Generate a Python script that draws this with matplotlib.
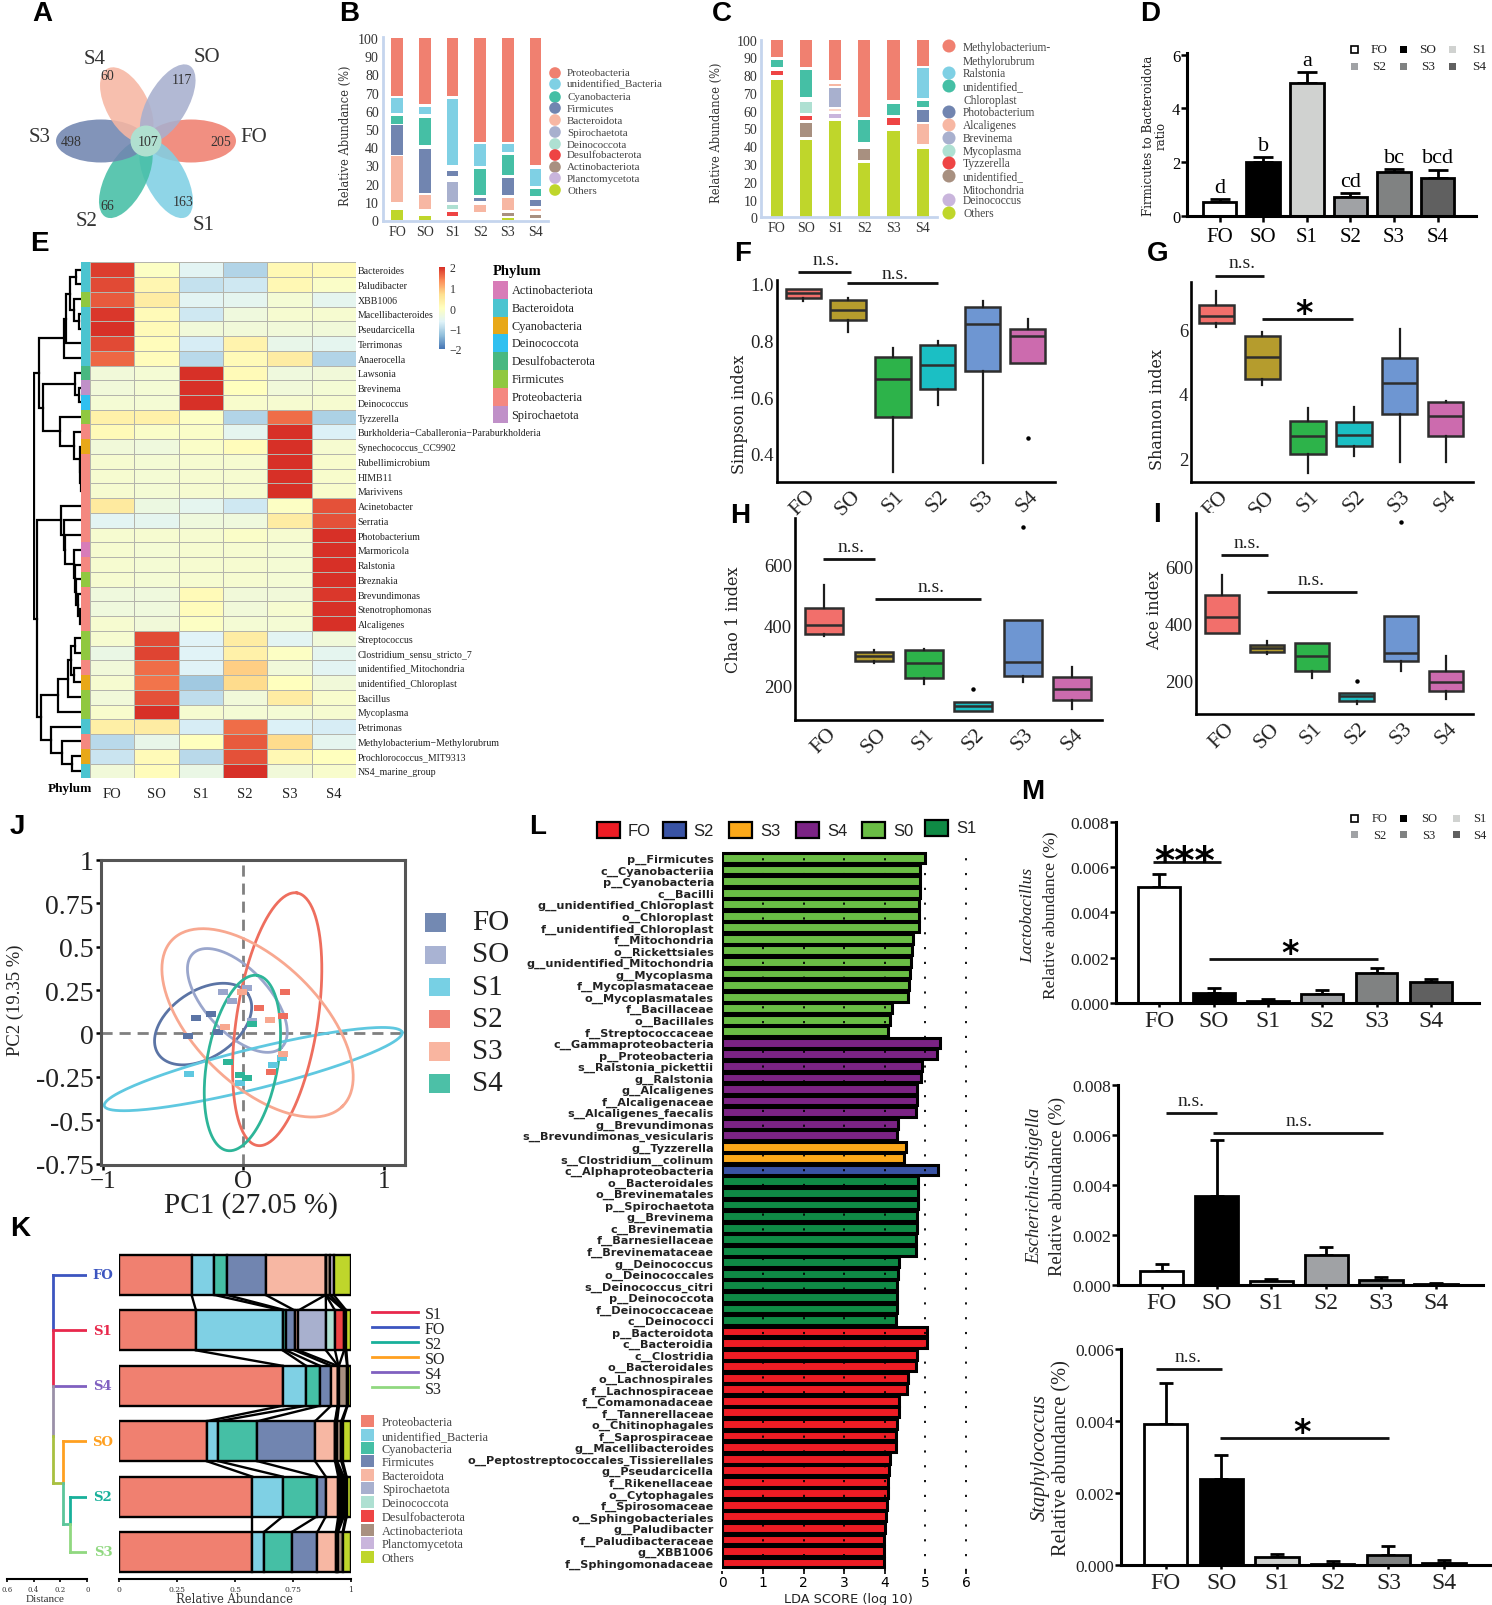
import numpy as np
import matplotlib
matplotlib.use('Agg')
import matplotlib.pyplot as plt
from matplotlib.patches import Ellipse, Rectangle
from matplotlib.colors import LinearSegmentedColormap

plt.rcParams['font.family'] = ['Liberation Serif', 'DejaVu Serif']
W, H = 1492, 1606

groups = ['FO', 'SO', 'S1', 'S2', 'S3', 'S4']

# A
venn_names = ['FO', 'S1', 'S2', 'S3', 'S4', 'SO']
venn_counts = [205, 163, 66, 498, 60, 117]
venn_core = 107

# B (low, high) of each segment
b_names = ['Proteobacteria', 'unidentified_Bacteria', 'Cyanobacteria', 'Firmicutes', 'Bacteroidota',
           'Spirochaetota', 'Deinococcota', 'Desulfobacterota', 'Actinobacteriota', 'Planctomycetota', 'Others']
b_proteo = [(68, 100), (63.5, 100), (68, 100), (43, 100), (43, 100), (30, 100)]
b_unid = [(59, 67), (58, 62), (30, 66.5), (29.5, 41.5), (37.5, 41.7), (18.7, 28)]
b_cyano = [(53, 57), (41, 56), None, (14, 28), (25, 36), (13, 17.3)]
b_firm = [(36, 52), (15, 39), (24, 27), (10.5, 12), (14, 23.3), (8, 11)]
b_bact = [(10, 35), (6, 13.6), None, (4.6, 8.5), (5.5, 12), (4.8, 6)]
b_spiro = [None, None, (10, 21), None, None, None]
b_deino = [None, None, (6, 8.5), None, None, None]
b_desulfo = [None, None, (2, 4.5), None, None, None]
b_actino = [None, None, None, None, (2.5, 3.8), (1.3, 3)]
b_plancto = [None, None, None, None, None, None]
b_others = [(0, 5.5), (0, 2), None, None, (0, 1.2), None]

# C
c_names = ['Methylobacterium-\nMethylorubrum', 'Ralstonia', 'unidentified_\nChloroplast', 'Photobacterium', 'Alcaligenes',
           'Brevinema', 'Mycoplasma', 'Tyzzerella', 'unidentified_\nMitochondria', 'Deinococcus', 'Others']
c_meth = [(90, 100), (84.8, 100), (77.5, 100), (56.3, 100), (65.9, 100), (85.4, 100)]
c_rals = [None, None, None, None, None, (67, 83.9)]
c_chlo = [(84.4, 88.4), (68, 83), None, (42.6, 54.8), (57.8, 64), (62, 65.5)]
c_phot = [None, None, None, None, None, (53.8, 60.2)]
c_alca = [None, None, (73.7, 75), None, None, (41, 52.5)]
c_brev = [None, None, (62, 72.6), None, None, None]
c_myco = [None, (58.5, 64.7), None, None, None, None]
c_tyzz = [(80, 82.4), (55, 57), None, None, (52, 55.7), None]
c_mito = [None, (45, 53.3), None, (32, 38.5), None, None]
c_dein = [None, None, (56, 58), None, None, None]
c_others = [(0, 77.3), (0, 43.7), (0, 54.4), (0, 30.4), (0, 48.8), (0, 38.6)]
c_pale = [None, None, (59.7, 61), None, None, None]

# D
d_mean = [0.52, 2.0, 4.95, 0.68, 1.62, 1.4]
d_top = [0.62, 2.2, 5.35, 0.85, 1.75, 1.72]
d_letters = ['d', 'b', 'a', 'cd', 'bc', 'bcd']

# E
e_rows = ['Bacteroides', 'Paludibacter', 'XBB1006', 'Macellibacteroides', 'Pseudarcicella', 'Terrimonas', 'Anaerocella',
          'Lawsonia', 'Brevinema', 'Deinococcus', 'Tyzzerella', 'Burkholderia−Caballeronia−Paraburkholderia',
          'Synechococcus_CC9902', 'Rubellimicrobium', 'HIMB11', 'Marivivens', 'Acinetobacter', 'Serratia',
          'Photobacterium', 'Marmoricola', 'Ralstonia', 'Breznakia', 'Brevundimonas', 'Stenotrophomonas', 'Alcaligenes',
          'Streptococcus', 'Clostridium_sensu_stricto_7', 'unidentified_Mitochondria', 'unidentified_Chloroplast',
          'Bacillus', 'Mycoplasma', 'Petrimonas', 'Methylobacterium−Methylorubrum', 'Prochlorococcus_MIT9313',
          'NS4_marine_group']
e_vals = [
    [1.9, -0.05, -0.6, -1.05, 0.15, 0.1], [1.8, 0.2, -0.9, -0.8, 0.15, -0.1], [1.7, 0.4, -0.6, -0.55, -0.25, -0.55],
    [1.95, 0.1, -0.8, -0.35, -0.2, -0.2], [2, 0.1, -0.3, -0.3, -0.3, -0.3], [1.8, 0.05, -0.75, 0.25, -0.5, -0.55],
    [1.6, 0.05, -1, 0.1, 0.4, -1.05], [-0.3, -0.25, 2, 0.1, -0.35, -0.3], [-0.3, -0.25, 2, 0, -0.3, -0.25],
    [-0.25, -0.25, 2, -0.15, -0.2, -0.2], [0.3, 0.3, -0.05, -1.05, 1.55, -1.1], [0.1, -0.1, -0.1, -0.55, 2, -0.7],
    [-0.3, -0.35, -0.1, 0.05, 2, -0.2], [-0.2, -0.25, -0.2, -0.2, 2, -0.15], [-0.2, -0.25, -0.2, -0.2, 2, -0.15],
    [-0.2, -0.25, -0.2, -0.2, 2, -0.15], [0.45, -0.4, -0.55, -0.8, -0.05, 1.75], [-0.6, -0.55, -0.35, -0.35, 0.4, 1.75],
    [-0.2, -0.2, -0.2, -0.1, -0.2, 2], [-0.2, -0.25, -0.2, -0.2, -0.25, 2], [-0.2, -0.25, -0.2, -0.2, -0.25, 2],
    [-0.2, -0.25, -0.2, -0.2, -0.25, 2], [-0.35, -0.35, 0.1, -0.3, -0.3, 1.95], [-0.35, -0.35, 0.05, -0.3, -0.2, 2],
    [-0.2, -0.3, -0.05, -0.25, -0.25, 2], [-0.2, 1.8, -0.65, 0.4, -0.6, -0.3], [-0.45, 1.85, -0.65, 0.3, -0.05, -0.55],
    [-0.3, 1.55, -0.65, 0.8, -0.3, -0.6], [-0.2, 1.5, -1.2, 0.7, 0, -0.3], [-0.3, 1.75, -0.95, -0.3, 0.4, -0.15],
    [-0.15, 2, -0.2, -0.25, -0.25, -0.2], [0.35, 0.4, -0.75, 1.55, -0.7, -0.75], [-1, -0.5, 0, 1.7, 0.7, -0.55],
    [-0.85, 0.1, -1, 1.75, 0.15, 0], [-0.3, 0.05, -0.45, 2, -0.3, -0.15]]
phyla = ['Actinobacteriota', 'Bacteroidota', 'Cyanobacteria', 'Deinococcota', 'Desulfobacterota', 'Firmicutes',
         'Proteobacteria', 'Spirochaetota']
e_phylum = [1, 1, 5, 1, 1, 1, 1, 4, 7, 3, 5, 6, 2, 6, 6, 6, 6, 6, 6, 0, 6, 5, 6, 6, 6, 5, 5, 6, 2, 5, 5, 1, 6, 2, 1]
# dendrogram: (distance, child, child), leaves are row numbers
e_tree = (44,
          (39,
           (16, (14, (11, (4.7, 0, 1), (7, 2, (2, 3, 4))), 5), 6),
           (36, (6, 7, (2, 8, 9)), (20, 10, (7, 11, (1.5, 12, (1, 13, (0.5, 14, 15))))))),
          (41,
           (19, 16, (16.5, 17, (15, 18, (7, 19, (6, 20, (5, 21, (3, 22, (1.5, 23, 24)))))))),
           (38,
            (21.3, (12.3, (10, (5.7, 25, 26), (7, 27, 28)), 29), 30),
            (28, 31, (18, 32, (8.7, 33, 34))))))

# F G H I boxes
f_lo = [0.941, 0.829, 0.335, 0.571, 0.368, 0.72]
f_q1 = [0.951, 0.871, 0.532, 0.628, 0.694, 0.72]
f_med = [0.967, 0.909, 0.664, 0.714, 0.858, 0.818]
f_q3 = [0.982, 0.944, 0.741, 0.785, 0.918, 0.842]
f_hi = [0.982, 0.952, 0.774, 0.798, 0.941, 0.876]
f_out = [[], [], [], [], [], [0.458]]

g_lo = [6.05, 4.28, 1.57, 2.1, 1.9, 1.92]
g_q1 = [6.17, 4.46, 2.15, 2.4, 3.37, 2.7]
g_med = [6.41, 5.15, 2.7, 2.74, 4.33, 3.33]
g_q3 = [6.74, 5.79, 3.18, 3.13, 5.11, 3.74]
g_hi = [7.18, 5.9, 3.58, 3.61, 6.0, 3.79]
g_out = [[], [], [], [], [], []]

h_lo = [365, 275, 205, 117, 213, 123]
h_q1 = [372, 283, 224, 117, 233, 153]
h_med = [400, 299, 274, 134, 278, 189]
h_q3 = [456, 310, 318, 147, 418, 230]
h_hi = [531, 318, 321, 147, 418, 263]
h_out = [[], [], [], [190], [724], []]

i_lo = [368, 293, 209, 118, 235, 137]
i_q1 = [368, 303, 235, 131, 271, 166]
i_med = [425, 315, 289, 146, 299, 198]
i_q3 = [500, 327, 333, 158, 426, 235]
i_hi = [572, 339, 333, 158, 426, 289]
i_out = [[], [], [], [199], [757], []]

# J
j_names = ['FO', 'SO', 'S1', 'S2', 'S3', 'S4']
j_x = [[-0.395, -0.337, -0.234, -0.181], [-0.145, -0.084, 0.024, 0.060], [-0.386, -0.024, 0.212, 0.272],
       [0.294, 0.113, 0.284, 0.198], [-0.01, -0.133, 0.188, 0.28], [0.06, -0.108, -0.024, 0.029]]
j_y = [[-0.013, 0.088, 0.111, 0.006], [0.239, 0.184, 0.259, 0.069], [-0.236, -0.285, -0.18, -0.14],
       [0.241, 0.146, 0.102, -0.22], [0.239, 0.04, 0.075, -0.119], [0.054, -0.165, -0.239, -0.255]]
# ellipse centre, semi axes (in x units) and on-screen angle
j_cx = [-0.287, -0.043, 0.07, 0.241, 0.101, -0.007]
j_cy = [0.054, 0.19, -0.205, 0.082, 0.061, -0.17]
j_a = [0.386, 0.464, 1.094, 0.925, 0.855, 0.643]
j_b = [0.241, 0.229, 0.145, 0.289, 0.446, 0.253]
j_ang = [34.5, -47.6, 14.1, 81.3, -45, 80.3]

# K
k_rows = ['FO', 'S1', 'S4', 'SO', 'S2', 'S3']
k_vals = [[0.312, 0.098, 0.053, 0.169, 0.259, 0, 0, 0.002, 0.016, 0.016, 0.075],
          [0.331, 0.374, 0.014, 0.038, 0.016, 0.119, 0.039, 0.039, 0.005, 0.005, 0.02],
          [0.705, 0.101, 0.06, 0.048, 0.028, 0.002, 0.002, 0.002, 0.035, 0.002, 0.015],
          [0.377, 0.05, 0.169, 0.249, 0.086, 0.002, 0.002, 0.005, 0.018, 0.006, 0.036],
          [0.574, 0.131, 0.147, 0.039, 0.054, 0.008, 0.008, 0.008, 0.008, 0.004, 0.019],
          [0.574, 0.05, 0.12, 0.111, 0.08, 0.003, 0.003, 0.003, 0.02, 0.003, 0.033]]
k_line_names = ['S1', 'FO', 'S2', 'SO', 'S4', 'S3']
k_dist_root = 0.252
k_dist_so = 0.178
k_dist_s2s3 = 0.128

# L
l_green = ['p__Firmicutes', 'c__Cyanobacteriia', 'p__Cyanobacteria', 'c__Bacilli', 'g__unidentified_Chloroplast',
           'o__Chloroplast', 'f__unidentified_Chloroplast', 'f__Mitochondria', 'o__Rickettsiales',
           'g__unidentified_Mitochondria', 'g__Mycoplasma', 'f__Mycoplasmataceae', 'o__Mycoplasmatales',
           'f__Bacillaceae', 'o__Bacillales', 'f__Streptococcaceae']
l_green_v = [5.0, 4.87, 4.87, 4.86, 4.85, 4.84, 4.84, 4.69, 4.68, 4.64, 4.63, 4.59, 4.58, 4.17, 4.13, 4.07]
l_purple = ['c__Gammaproteobacteria', 'p__Proteobacteria', 's__Ralstonia_pickettii', 'g__Ralstonia', 'g__Alcaligenes',
            'f__Alcaligenaceae', 's__Alcaligenes_faecalis', 'g__Brevundimonas', 's__Brevundimonas_vesicularis']
l_purple_v = [5.35, 5.28, 4.92, 4.89, 4.79, 4.79, 4.76, 4.32, 4.30]
l_orange = ['g__Tyzzerella', 's__Clostridium__colinum']
l_orange_v = [4.52, 4.47]
l_blue = ['c__Alphaproteobacteria']
l_blue_v = [5.30]
l_dark = ['o__Bacteroidales', 'o__Brevinematales', 'p__Spirochaetota', 'g__Brevinema', 'c__Brevinematia',
          'f__Barnesiellaceae', 'f__Brevinemataceae', 'g__Deinococcus', 'o__Deinococcales', 's__Deinococcus_citri',
          'p__Deinococcota', 'f__Deinococcaceae', 'c__Deinococci']
l_dark_v = [4.83, 4.82, 4.81, 4.80, 4.80, 4.78, 4.78, 4.36, 4.33, 4.31, 4.30, 4.29, 4.28]
l_red = ['p__Bacteroidota', 'c__Bacteroidia', 'c__Clostridia', 'o__Bacteroidales', 'o__Lachnospirales',
         'f__Lachnospiraceae', 'f__Comamonadaceae', 'f__Tannerellaceae', 'o__Chitinophagales', 'f__Saprospiraceae',
         'g__Macellibacteroides', 'o__Peptostreptococcales_Tissierellales', 'g__Pseudarcicella', 'f__Rikenellaceae',
         'o__Cytophagales', 'f__Spirosomaceae', 'o__Sphingobacteriales', 'g__Paludibacter', 'f__Paludibacteraceae',
         'g__XBB1006', 'f__Sphingomonadaceae']
l_red_v = [5.05, 5.03, 4.80, 4.77, 4.58, 4.54, 4.34, 4.34, 4.31, 4.28, 4.28, 4.12, 4.10, 4.08, 4.08, 4.06, 4.02, 4.01,
           3.99, 3.99, 3.98]

# M
m1_mean = [0.00513, 0.00044, 0.0001, 0.00038, 0.00134, 0.00094]
m1_top = [0.00569, 0.00065, 0.00018, 0.00057, 0.00154, 0.00106]
m2_mean = [0.00055, 0.00356, 0.00016, 0.00122, 0.00022, 0.00003]
m2_top = [0.00085, 0.0058, 0.00025, 0.00152, 0.00033, 0.00007]
m3_mean = [0.00393, 0.00238, 0.00021, 0.00003, 0.00028, 0.00005]
m3_top = [0.00505, 0.00305, 0.0003, 0.00009, 0.00051, 0.00012]

# colours
tax_cols = ['#F08070', '#7FD0E4', '#45BFA5', '#7185B0', '#F7B7A3', '#A8B0CE', '#AEE0D2', '#EE4444', '#A89080',
            '#C9B5DC', '#BFD62B']
gray_cols = ['white', 'black', '#D0D2D0', '#A0A2A5', '#808282', '#606060']
box_cols = ['#F26F6B', '#B59C2D', '#2DB34A', '#1BBFC4', '#6E96D2', '#CC6BAE']
phylum_cols = ['#D87CB8', '#4BC4D0', '#E8A818', '#30C0F0', '#48B880', '#90C840', '#F48880', '#C090C8']

fig = plt.figure(figsize=(W / 100, H / 100), dpi=100)


def place(x0, y0, x1, y1):
    return fig.add_axes([x0 / W, 1 - y1 / H, (x1 - x0) / W, (y1 - y0) / H])


ov = fig.add_axes([0, 0, 1, 1], zorder=20)
ov.set_xlim(0, W)
ov.set_ylim(H, 0)
ov.axis('off')
ov.patch.set_alpha(0)


def sig(x0, x1, y, label, tx, ty, size=14):
    ov.plot([x0, x1], [y, y], color='#111111', lw=2, solid_capstyle='butt')
    if label.startswith('*'):
        ov.text(tx, ty + size * 0.4, label, ha='center', va='center', fontsize=size, family='DejaVu Sans',
                fontweight='bold')
    else:
        ov.text(tx, ty, label, ha='center', va='center', fontsize=size, color='#222222')


def square(x, y, w, h, col, edge='none', lw=0):
    ov.add_patch(Rectangle((x, y), w, h, facecolor=col, edgecolor=edge, linewidth=lw))


# panel letters
for lab, x, y in [('A', 42, 14), ('B', 349, 14), ('C', 722, 14), ('D', 1150, 14), ('E', 39, 244), ('F', 743, 254),
                  ('G', 1158, 254), ('H', 740, 516), ('I', 1157, 515), ('J', 17, 827), ('K', 20, 1229), ('L', 538, 827),
                  ('M', 1033, 792)]:
    ov.text(x, y, lab, ha='center', va='center', fontsize=20, family='Liberation Sans', fontweight='bold')

# A
ax = place(0, 30, 300, 240)
ax.set_xlim(0, 300)
ax.set_ylim(240, 30)
ax.axis('off')
petal_col = ['#F08070', '#80D0E4', '#45BFA5', '#7185B0', '#F7B7A3', '#A8B0CE']
petal_ang = [0, -62, -118, 180, 118, 60]
petal_len = [90, 86, 86, 90, 82, 87]
petal_wid = [43, 40, 40, 43, 42, 40]
for c, a, l, w in zip(petal_col, petal_ang, petal_len, petal_wid):
    cx = 146 + l / 2 * np.cos(np.radians(a))
    cy = 142 - l / 2 * np.sin(np.radians(a))
    ax.add_patch(Ellipse((cx, cy), l, w, angle=-a, facecolor=c, edgecolor='none', alpha=0.88))
ax.add_patch(Ellipse((146, 142), 31, 31, facecolor='#B0E0D0', edgecolor='none'))
name_xy = [(254, 137), (204, 226), (87, 222), (40, 137), (95, 59), (207, 57)]
num_xy = [(221, 142), (183, 203), (107, 206), (71, 142), (107, 77), (182, 80)]
for n, c, p, q in zip(venn_names, venn_counts, name_xy, num_xy):
    ov.text(p[0], p[1], n, ha='center', va='center', fontsize=15, color='#333333')
    ov.text(q[0], q[1], str(c), ha='center', va='center', fontsize=10, color='#333333')
ov.text(148, 142, str(venn_core), ha='center', va='center', fontsize=10, color='#333333')


def stacked(ax, series, cols, width):
    for segs, col in zip(series, cols):
        for i, s in enumerate(segs):
            if s is not None:
                ax.bar(i, s[1] - s[0], bottom=s[0], width=width, color=col)
    ax.set_xticks(range(6))
    ax.set_xticklabels(groups, fontsize=10, color='#333333')
    ax.set_yticks(range(0, 101, 10))
    ax.tick_params(axis='y', labelsize=10, length=0, pad=3, labelcolor='#333333')
    ax.tick_params(axis='x', length=0, pad=3)
    for s in ['top', 'right']:
        ax.spines[s].set_visible(False)
    for s in ['left', 'bottom']:
        ax.spines[s].set_color('#C5D5EE')
        ax.spines[s].set_linewidth(2)


# B
ax = place(383, 38, 548, 222)
stacked(ax, [b_proteo, b_unid, b_cyano, b_firm, b_bact, b_spiro, b_deino, b_desulfo, b_actino, b_plancto, b_others],
        tax_cols, 0.42)
ax.set_xlim((383 - 397) / 27.7, (548 - 397) / 27.7)
ax.set_ylim(-0.5, 100.5)
ov.text(345, 136, 'Relative Abundance (%)', rotation=90, ha='center', va='center', fontsize=8.3, family='DejaVu Serif',
        color='#333333')
b_ys = [74, 85, 98, 109, 121, 133, 145, 156, 168, 179, 191]
ov.scatter([555] * 11, b_ys, s=70, c=tax_cols, linewidths=0)
for n, y in zip(b_names, b_ys):
    ov.text(567, y, n, va='center', fontsize=7.9, color='#444444')

# C
ax = place(761.4, 40.7, 937.4, 218.3)
c_cols = ['#F08070', '#7FD0E4', '#45BFA5', '#7185B0', '#F7B7A3', '#A8B0CE', '#AEE0D2', '#EE4444', '#A89080', '#C9B5DC',
          '#BFD62B', '#FBD5C8']
stacked(ax, [c_meth, c_rals, c_chlo, c_phot, c_alca, c_brev, c_myco, c_tyzz, c_mito, c_dein, c_others, c_pale], c_cols, 0.42)
ax.set_xlim((761.4 - 776.7) / 29.2, (937.4 - 776.7) / 29.2)
ax.set_ylim(0, 100)
ov.text(716.5, 133, 'Relative Abundance (%)', rotation=90, ha='center', va='center', fontsize=8.3, family='DejaVu Serif',
        color='#333333')
c_ys = [47, 74, 87, 113, 126, 139, 152, 164, 177, 201, 214]
c_text_ys = [55, 74, 94, 113, 126, 139, 152, 164, 184, 201, 214]
ov.scatter([949] * 11, c_ys, s=88, c=c_cols[:11], linewidths=0)
for n, y in zip(c_names, c_text_ys):
    ov.text(963, y, n, va='center', fontsize=8.3, color='#444444', linespacing=1.15)


def sem_bars(ax, means, tops, width, lw=2, cap=5):
    ax.bar(range(6), means, width=width, color=gray_cols, edgecolor='black', linewidth=lw, zorder=2)
    ax.errorbar(range(6), means, yerr=[np.zeros(6), np.array(tops) - np.array(means)], fmt='none', ecolor='black',
                elinewidth=lw, capsize=cap, capthick=lw, zorder=1)
    for s in ['top', 'right']:
        ax.spines[s].set_visible(False)
    for s in ['left', 'bottom']:
        ax.spines[s].set_linewidth(2.2)
    ax.set_xticks(range(6))
    ax.set_xticklabels(groups)


def gray_legend(xs, txs, ys, size):
    k = 0
    for y in ys:
        for x, tx in zip(xs, txs):
            e = 'black' if k == 0 else 'none'
            square(x - 3.5, y - 3.5, 7, 7, gray_cols[k], e, 1.2)
            ov.text(tx, y, groups[k], va='center', ha='center', fontsize=size, color='#222222')
            k += 1


# D
ax = place(1187.4, 54, 1475.7, 216.7)
sem_bars(ax, d_mean, d_top, 0.775, cap=7)
ax.set_xlim((1187.4 - 1219.6) / 43.6, (1475.7 - 1219.6) / 43.6)
ax.set_ylim(0, 6.07)
ax.set_yticks([0, 2, 4, 6])
ax.tick_params(axis='y', labelsize=12, length=4, width=1.8, pad=1)
ax.tick_params(axis='x', labelsize=15, length=4, width=1.8, pad=4)
for i, (t, l) in enumerate(zip(d_top, d_letters)):
    ax.text(i, t + 0.08, l, ha='center', va='bottom', fontsize=16)
ov.text(1155, 136, 'Firmicutes to Bacteroidota\nratio', rotation=90, ha='center', va='center', fontsize=8.5,
        family='DejaVu Serif', linespacing=1.0, color='#222222')
gray_legend([1354, 1403, 1452], [1379, 1428, 1479], [50, 67], 9.5)

# E
ax = place(89.8, 263.3, 356.2, 779.3)
cmap = LinearSegmentedColormap.from_list('rb', ['#4575B4', '#91BFDB', '#E0F3F8', '#FFFFBF', '#FEE090', '#FC8D59', '#D73027'])
mesh = ax.pcolormesh(np.array(e_vals), cmap=cmap, vmin=-2, vmax=2, edgecolors='#B4B4AC', linewidth=0.6)
ax.set_ylim(35, 0)
ax.yaxis.tick_right()
ax.set_yticks(np.arange(35) + 0.5)
ax.set_yticklabels(e_rows, fontsize=7.1, color='#222222')
ax.set_xticks(np.arange(6) + 0.5)
ax.set_xticklabels(groups, fontsize=10.5, color='#222222')
ax.tick_params(length=0, pad=1)
ax.tick_params(axis='x', pad=6)
for s in ax.spines.values():
    s.set_visible(False)

ax = place(81.4, 263.3, 89.8, 779.3)
for r, p in enumerate(e_phylum):
    ax.bar(0.5, 1, bottom=r, width=1, color=phylum_cols[p])
ax.set_xlim(0, 1)
ax.set_ylim(35, 0)
ax.axis('off')

ax = place(33, 263.3, 81.4, 779.3)


def draw_tree(ax, node):
    if isinstance(node, int):
        return 0, node + 0.5
    d, a, b = node
    xa, ya = draw_tree(ax, a)
    xb, yb = draw_tree(ax, b)
    ax.plot([xa, d, d, xb], [ya, ya, yb, yb], color='black', lw=1.6, solid_joinstyle='miter')
    return d, (ya + yb) / 2


draw_tree(ax, e_tree)
ax.set_xlim(45, 0)
ax.set_ylim(35, 0)
ax.axis('off')

ov.text(70, 789, 'Phylum', ha='center', va='center', fontsize=9.5, fontweight='bold')

cax = place(439, 268, 445.3, 350)
cb = fig.colorbar(mesh, cax=cax)
cb.set_ticks([-2, -1, 0, 1, 2])
cb.ax.tick_params(length=0, labelsize=8.5, pad=3, labelcolor='#333333')
cb.outline.set_visible(False)
ov.text(492.6, 272, 'Phylum', va='center', fontsize=10.5, fontweight='bold')
for i, (n, c) in enumerate(zip(phyla, phylum_cols)):
    square(492.6, 282 + i * 17.8, 15.2, 17.8, c)
    ov.text(511.5, 291 + i * 17.8, n, va='center', fontsize=8.8, color='#222222')


def box_panel(box, c0, step, width, ylim, yticks, ylabel, lab_xy, lo, q1, med, q3, hi, out):
    x0, y0, x1, y1 = box
    ax = place(x0, y0, x1, y1)
    stats = [dict(whislo=a, q1=b, med=c, q3=d, whishi=e, fliers=f) for a, b, c, d, e, f in zip(lo, q1, med, q3, hi, out)]
    art = ax.bxp(stats, positions=range(6), widths=width, patch_artist=True, showcaps=False,
                 boxprops=dict(linewidth=1.8, edgecolor='#2E2E2E'), medianprops=dict(color='#2E2E2E', linewidth=1.8),
                 whiskerprops=dict(color='#1E1E1E', linewidth=1.6),
                 flierprops=dict(marker='o', markersize=2.2, markerfacecolor='black', markeredgecolor='black'))
    for b, c in zip(art['boxes'], box_cols):
        b.set_facecolor(c)
    ax.set_xlim((x0 - c0) / step, (x1 - c0) / step)
    ax.set_ylim(*ylim)
    ax.set_yticks(yticks)
    ax.set_xticks(range(6))
    ax.set_xticklabels(groups, rotation=45, ha='center', fontsize=15.5, color='#222222')
    ax.tick_params(axis='y', labelsize=13.5, length=0, pad=2, labelcolor='#222222')
    ax.tick_params(axis='x', length=0, pad=3)
    for s in ['top', 'right']:
        ax.spines[s].set_visible(False)
    for s in ['left', 'bottom']:
        ax.spines[s].set_linewidth(1.9)
    ov.text(lab_xy[0], lab_xy[1], ylabel, rotation=90, ha='center', va='center', fontsize=11.5, family='DejaVu Serif',
            color='#222222')


fx = 0.5038
box_panel((776.6, 280.7, 1055, 482.7), 803.3, 44.84, 0.787, (0.302, 1.015), [0.4, 0.6, 0.8, 1.0], 'Simpson index',
          (739, 414), f_lo, f_q1, f_med, f_q3, f_hi, f_out)
sig(700 + 195 * fx, 700 + 300 * fx, 240 + 98 / 3, 'n.s.', 700 + 250 * fx, 240 + 62 / 3)
sig(700 + 292 * fx, 700 + 473 * fx, 240 + 133 / 3, 'n.s.', 700 + 388 * fx, 240 + 103 / 3)

box_panel((1191, 282.7, 1473, 483.3), 1216.4, 45.85, 0.77, (1.282, 7.456), [2, 4, 6], 'Shannon index', (1157, 410),
          g_lo, g_q1, g_med, g_q3, g_hi, g_out)
sig(700 + 1023 * fx, 700 + 1120 * fx, 240 + 110 / 3, 'n.s.', 700 + 1075 * fx, 240 + 72 / 3)
sig(700 + 1115 * fx, 700 + 1297 * fx, 240 + 240 / 3, '*', 700 + 1200 * fx, 240 + 195 / 3, size=24)

box_panel((794.7, 519.3, 1102, 720.7), 824.4, 49.6, 0.77, (87.6, 753), [200, 400, 600], 'Chao 1 index', (734, 620),
          h_lo, h_q1, h_med, h_q3, h_hi, h_out)
sig(700 + 244 * fx, 700 + 347 * fx, 500 + 180 / 3, 'n.s.', 700 + 300 * fx, 500 + 142 / 3)
sig(700 + 347 * fx, 700 + 558 * fx, 500 + 300 / 3, 'n.s.', 700 + 458 * fx, 500 + 262 / 3)

box_panel((1195.7, 514, 1473, 715.3), 1222, 44.84, 0.76, (83.5, 787.7), [200, 400, 600], 'Ace index', (1155, 610),
          i_lo, i_q1, i_med, i_q3, i_hi, i_out)
sig(700 + 1034 * fx, 700 + 1128 * fx, 500 + 168 / 3, 'n.s.', 700 + 1085 * fx, 500 + 132 / 3)
sig(700 + 1125 * fx, 700 + 1305 * fx, 500 + 278 / 3, 'n.s.', 700 + 1212 * fx, 500 + 242 / 3)

# J
ax = place(101.4, 860.7, 405, 1166)
ax.set_xlim(-1.012, 1.152)
ax.set_ylim(-0.757, 1.0)
ax.axhline(0, color='#808080', lw=2, ls=(0, (4, 2.5)))
ax.axvline(0, color='#808080', lw=2, ls=(0, (4, 2.5)))
j_cols = ['#5B74A5', '#9AA6CC', '#5FC8E0', '#EE6E5E', '#F8A890', '#2DB598']
aspect = 522 / 415
t = np.linspace(0, 2 * np.pi, 200)
for i, c in enumerate(j_cols):
    th = np.radians(j_ang[i])
    ex = j_cx[i] + j_a[i] * np.cos(th) * np.cos(t) - j_b[i] * np.sin(th) * np.sin(t)
    ey = j_cy[i] + (j_a[i] * np.sin(th) * np.cos(t) + j_b[i] * np.cos(th) * np.sin(t)) / aspect
    ax.plot(ex, ey, color=c, lw=2)
    ax.scatter(j_x[i], j_y[i], s=55, marker=[(-1.7, -1), (1.7, -1), (1.7, 1), (-1.7, 1)], color=c, linewidths=0, zorder=3)
ax.set_xticks([-1, 0, 1])
ax.set_xticklabels(['−1', 'O', '1'])
ax.set_yticks([-0.75, -0.5, -0.25, 0, 0.25, 0.5, 0.75, 1])
ax.set_yticklabels(['-0.75', '-0.5', '-0.25', '0', '0.25', '0.5', '0.75', '1'])
ax.tick_params(labelsize=20, length=3.5, width=1.8, pad=2, labelcolor='#222222')
ax.tick_params(axis='x', labelsize=18, pad=0)
for s in ax.spines.values():
    s.set_linewidth(2.2)
    s.set_color('#555555')
ov.text(250.6, 1206, 'PC1 (27.05 %)', ha='center', va='center', fontsize=21, color='#222222')
ov.text(15, 1000, 'PC2 (19.35 %)', rotation=90, ha='center', va='center', fontsize=13.4, color='#222222')
for i, (n, c) in enumerate(zip(j_names, j_cols)):
    y = 923.3 + i * 32.2
    sx = 425 if i < 2 else 428.6
    square(sx, y - 9, 21, 18.5, c)
    ov.patches[-1].set_alpha(0.85)
    ov.text(472, y, n, va='center', fontsize=21, color='#222222')

# K
ax = place(119.3, 1248.3, 351, 1580)
vals = np.array(k_vals)
cum = np.cumsum(vals, axis=1)
for j, c in enumerate(tax_cols):
    ax.barh(range(6), vals[:, j], left=cum[:, j] - vals[:, j], height=0.72, color=c, edgecolor='black', linewidth=1.7)
for r in range(5):
    for j in range(10):
        ax.plot([cum[r, j], cum[r + 1, j]], [r + 0.36, r + 0.64], color='black', lw=1.7, zorder=0)
ax.set_xlim(0, 1)
ax.set_ylim((1110 - 198) / 166.2, (115 - 198) / 166.2)
ax.set_yticks([])
ax.set_xticks([0, 0.25, 0.5, 0.75, 1])
ax.set_xticklabels(['0', '0.25', '0.5', '0.75', '1'], fontsize=5.5, family='DejaVu Serif', color='#333333')
ax.tick_params(axis='x', length=2, width=1.2, pad=2)
for s in ['top', 'right', 'left']:
    ax.spines[s].set_visible(False)
ax.spines['bottom'].set_linewidth(1.5)
ov.text(234, 1600, 'Relative Abundance', ha='center', va='center', fontsize=8.3, family='DejaVu Serif', color='#333333')

ax = place(6.7, 1248.3, 87.3, 1580)
ax.set_xlim(0.6, 0.0)
ax.set_ylim((1110 - 198) / 166.2, (115 - 198) / 166.2)
k_line_cols = {'FO': '#3C55C0', 'S1': '#E8284C', 'S4': '#8060C0', 'SO': '#FFA020', 'S2': '#18B09A', 'S3': '#90D880'}
leaf_d = [k_dist_root, k_dist_root, k_dist_root, k_dist_so, k_dist_s2s3, k_dist_s2s3]
for r, n in enumerate(k_rows):
    ax.plot([leaf_d[r], 0], [r, r], color=k_line_cols[n], lw=2)
    ov.text(103, 1210 + (198 + r * 166.2) / 3, n, ha='center', va='center', fontsize=9.5, family='DejaVu Serif',
            fontweight='bold', color=k_line_cols[n])
ax.plot([k_dist_root] * 2, [0, 1], color=k_line_cols['FO'], lw=2)
ax.plot([k_dist_root] * 2, [1, 2], color=k_line_cols['S1'], lw=2)
ax.plot([k_dist_root] * 2, [2, 2.9], color='#9A90A8', lw=2)
ax.plot([k_dist_root] * 2, [2.9, 3.75], color='#A8C040', lw=2)
ax.plot([k_dist_root, k_dist_so], [3.75, 3.75], color='#A8C040', lw=2)
ax.plot([k_dist_so] * 2, [3, 3.75], color=k_line_cols['SO'], lw=2)
ax.plot([k_dist_so] * 2, [3.75, 4.5], color='#5CC59A', lw=2)
ax.plot([k_dist_so, k_dist_s2s3], [4.5, 4.5], color='#5CC59A', lw=2)
ax.plot([k_dist_s2s3] * 2, [4, 4.5], color=k_line_cols['S2'], lw=2)
ax.plot([k_dist_s2s3] * 2, [4.5, 5], color=k_line_cols['S3'], lw=2)
ax.set_yticks([])
ax.set_xticks([0.6, 0.4, 0.2, 0])
ax.set_xticklabels(['0.6', '0.4', '0.2', '0'], fontsize=5, family='DejaVu Serif', color='#333333')
ax.tick_params(axis='x', length=2, width=1.2, pad=2)
for s in ['top', 'right', 'left']:
    ax.spines[s].set_visible(False)
ax.spines['bottom'].set_linewidth(1.5)
ov.text(45, 1600, 'Distance', ha='center', va='center', fontsize=8, color='#333333')

for i, n in enumerate(k_line_names):
    y = 1210 + (308 + i * 45.2) / 3
    ov.plot([372, 418], [y, y], color=k_line_cols[n], lw=2)
    ov.text(425, y + 2, n, va='center', fontsize=11.5, color='#222222')
k_leg_y = [635, 678, 717, 756, 797, 838, 879, 920, 962, 1003, 1045]
for n, c, zy in zip(b_names, tax_cols, k_leg_y):
    y = 1210 + zy / 3
    square(361.3, y - 6, 13, 12, c)
    ov.text(382, y + 1, n, va='center', fontsize=8.8, color='#444444')

# L
l_names = l_green + l_purple + l_orange + l_blue + l_dark + l_red
l_vals = l_green_v + l_purple_v + l_orange_v + l_blue_v + l_dark_v + l_red_v
l_col_map = {'S0': '#6ABD45', 'S4': '#7B2384', 'S3': '#FBA819', 'S2': '#3953A4', 'S1': '#0F8A45', 'FO': '#ED1C24'}
l_cols = (['#6ABD45'] * len(l_green) + ['#7B2384'] * len(l_purple) + ['#FBA819'] * len(l_orange)
          + ['#3953A4'] * len(l_blue) + ['#0F8A45'] * len(l_dark) + ['#ED1C24'] * len(l_red))
ax = place(722.3, 849, 970, 1572)
ax.barh(range(62), l_vals, height=0.85, color=l_cols, edgecolor='black', linewidth=2.2, zorder=1)
ax.set_xlim(0, 6.1)
ax.set_ylim((1572 - 859) / 11.55, (849 - 859) / 11.55)
for v in range(1, 7):
    ax.axvline(v, color='black', lw=1.3, ls=(0, (1.2, 7)), zorder=3)
ax.set_yticks(range(62))
ax.set_yticklabels(l_names, fontsize=8.1, family='DejaVu Sans', fontweight='bold', color='#222222')
ax.set_xticks(range(7))
ax.tick_params(axis='y', length=0, pad=6)
ax.tick_params(axis='x', length=2, width=1.2, labelsize=10, pad=1)
for lab in ax.get_xticklabels():
    lab.set_family('DejaVu Sans')
for s in ['top', 'right', 'left', 'bottom']:
    ax.spines[s].set_visible(False)
ov.text(848, 1600, 'LDA SCORE (log 10)', ha='center', va='center', fontsize=9.3, family='DejaVu Sans', color='#222222')
l_leg = [('FO', 380, 40), ('S2', 578, 40), ('S3', 778, 40), ('S4', 978, 40), ('S0', 1177, 40), ('S1', 1365, 33)]
for n, zx, zy in l_leg:
    square(470 + zx / 3, 810 + zy / 3, 23, 16, l_col_map[n], 'black', 1.6)
    ov.text(470 + zx / 3 + 31, 810 + zy / 3 + 8, n, va='center', fontsize=12, family='Liberation Sans', color='#222222')


# M
def m_panel(box, c0, step, width, ymax, yticks, means, tops, ital, lab_x1, lab_x2, lab_y, lab_size):
    x0, y0, x1, y1 = box
    ax = place(x0, y0, x1, y1)
    sem_bars(ax, means, tops, width, lw=2, cap=5)
    ax.set_xlim((x0 - c0) / step, (x1 - c0) / step)
    ax.set_ylim(0, ymax)
    ax.set_yticks(yticks)
    ax.set_yticklabels(['%.3f' % v for v in yticks])
    ax.tick_params(axis='y', labelsize=12.5, length=4, width=1.8, pad=1, labelcolor='#222222')
    ax.tick_params(axis='x', labelsize=17, length=3, width=1.8, pad=2, labelcolor='#222222')
    ov.text(lab_x1, lab_y, ital, rotation=90, ha='center', va='center', fontsize=lab_size, style='italic',
            color='#222222')
    ov.text(lab_x2, lab_y, 'Relative abundance (%)', rotation=90, ha='center', va='center', fontsize=lab_size,
            color='#222222')


m_panel((1115.7, 822.7, 1479, 1004), 1159.3, 54.3, 0.77, 0.008, [0, 0.002, 0.004, 0.006, 0.008], m1_mean, m1_top,
        'Lactobacillus', 1028, 1050, 915, 12.5)
sig(1152.7, 1220.7, 863.3, '***', 1184.3, 851.7, size=28)
sig(1209, 1378.3, 959.7, '*', 1290, 945, size=24)
gray_legend([1354, 1403, 1456], [1380, 1429, 1480], [819, 835.7], 9)

m_panel((1118.3, 1086.4, 1483, 1286), 1161.7, 54.83, 0.79, 0.008, [0, 0.002, 0.004, 0.006, 0.008], m2_mean, m2_top,
        'Escherichia-Shigella', 1035, 1057, 1186, 13.4)
sig(1166, 1216.7, 1113.8, 'n.s.', 1190.7, 1101.4)
sig(1213.3, 1383.3, 1133.9, 'n.s.', 1299, 1121.3)

m_panel((1120.7, 1350.3, 1492, 1565.6), 1165.7, 55.67, 0.78, 0.006, [0, 0.002, 0.004, 0.006], m3_mean, m3_top,
        'Staphylococcus', 1040, 1062, 1458, 14.7)
sig(1156, 1221.7, 1370.1, 'n.s.', 1188.3, 1357.8)
sig(1220, 1389, 1438.8, '*', 1302.3, 1423.8, size=24)

fig.savefig('out.png', dpi=100)
